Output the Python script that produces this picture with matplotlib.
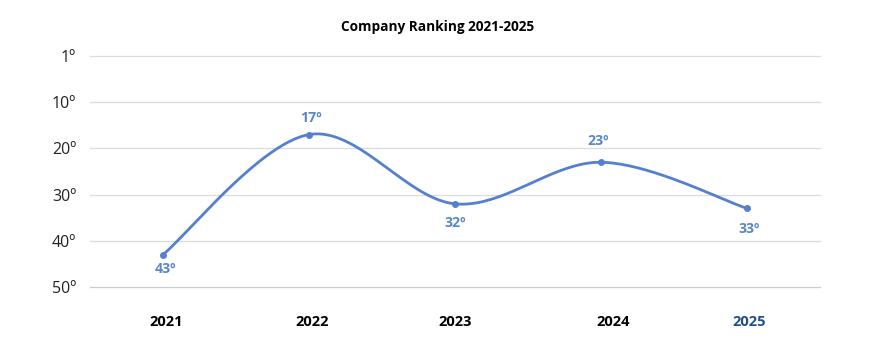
import numpy as np
import matplotlib
matplotlib.use("Agg")
import matplotlib.pyplot as plt

years = ["2021", "2022", "2023", "2024", "2025"]
ranks = [43, 17, 32, 23, 33]
tick_values = [0, 10, 20, 30, 40, 50]
tick_labels = ["1º", "10º", "20º", "30º", "40º", "50º"]

plt.rcParams["font.family"] = ["Open Sans", "DejaVu Sans"]

line_color = "#5580d0"
label_color = "#5b87c8"

# label placement relative to each point, in pixels (dx, dy; +dy = up)
label_offsets_px = [(3, -14), (2, 17), (0, -19), (-3, 21), (2, -21)]


def catmull_rom(xs, ys, n=40):
    """Smooth curve through the points (Catmull-Rom, end points duplicated)."""
    px = np.concatenate([[xs[0]], xs, [xs[-1]]])
    py = np.concatenate([[ys[0]], ys, [ys[-1]]])
    out_x, out_y = [], []
    t = np.linspace(0, 1, n)
    for i in range(1, len(px) - 2):
        p0, p1, p2, p3 = (np.array([px[j], py[j]]) for j in range(i - 1, i + 3))
        m1 = (p2 - p0) / 2
        m2 = (p3 - p1) / 2
        h00 = 2 * t**3 - 3 * t**2 + 1
        h10 = t**3 - 2 * t**2 + t
        h01 = -2 * t**3 + 3 * t**2
        h11 = t**3 - t**2
        seg = (np.outer(h00, p1) + np.outer(h10, m1)
               + np.outer(h01, p2) + np.outer(h11, m2))
        out_x.extend(seg[:, 0])
        out_y.extend(seg[:, 1])
    return np.array(out_x), np.array(out_y)


fig = plt.figure(figsize=(8.82, 3.44), dpi=100)
ax = fig.add_axes([0.102, 0.1657, 0.828, 0.6715])

x = np.arange(len(years), dtype=float)
y = np.array(ranks, dtype=float)

for v in tick_values:
    ax.axhline(v, color="#dcdcdc" if v != 50 else "#cccccc", lw=0.9,
               zorder=0, clip_on=False)

sx, sy = catmull_rom(x, y)
ax.plot(sx, sy, color=line_color, lw=2, solid_capstyle="round", zorder=2)
ax.plot(x, y, "o", color=line_color, ms=4, zorder=3)

for xi, yi, (dx, dy) in zip(x, y, label_offsets_px):
    ax.annotate(f"{int(yi)}º", (xi, yi), xytext=(dx * 0.72, dy * 0.72),
                textcoords="offset points", ha="center", va="center",
                fontsize=10.2, fontweight="bold", color=label_color)

ax.set_xlim(-0.5, len(years) - 0.5)
ax.set_ylim(50, 0)
ax.set_yticks(tick_values)
ax.set_yticklabels(tick_labels, fontsize=11.5, color="#222222")

tick_shift = [0.02, 0.02, 0.0, 0.08, 0.01]
ax.set_xticks(x + np.array(tick_shift))
ax.set_xticklabels(years, fontsize=10.5, fontweight="bold")
for lbl, c in zip(ax.get_xticklabels(), ["#000000"] * 4 + ["#1f4e8c"]):
    lbl.set_color(c)

ax.tick_params(axis="both", length=0)
ax.tick_params(axis="y", pad=10)
ax.tick_params(axis="x", pad=20)
for s in ax.spines.values():
    s.set_visible(False)

fig.text(0.496, 0.921, "Company Ranking 2021-2025", ha="center", va="center",
         fontsize=9.8, fontweight="bold", color="#000000")

fig.savefig("out.png", dpi=100, facecolor="white")
